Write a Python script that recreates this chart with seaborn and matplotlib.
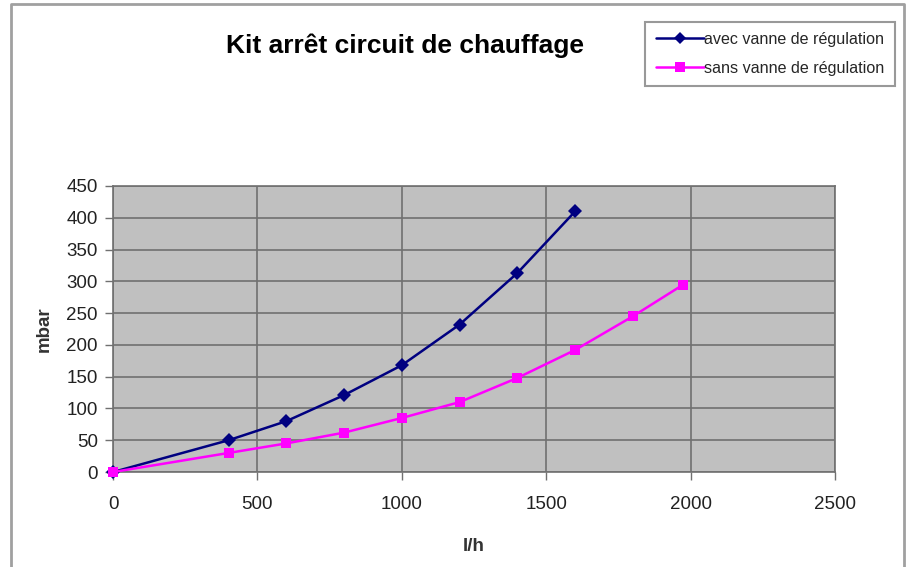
import matplotlib
matplotlib.use("Agg")
import matplotlib.pyplot as plt
import pandas as pd
import seaborn as sns

# values
flow_avec = [0, 400, 600, 800, 1000, 1200, 1400, 1600]
mbar_avec = [0, 50, 80, 121, 168, 232, 313, 410]
flow_sans = [0, 400, 600, 800, 1000, 1200, 1400, 1600, 1800, 1975]
mbar_sans = [0, 30, 45, 62, 85, 110, 148, 192, 245, 295]
x_ticks = [0, 500, 1000, 1500, 2000, 2500]
y_ticks = [0, 50, 100, 150, 200, 250, 300, 350, 400, 450]

label_avec = "avec vanne de régulation"
label_sans = "sans vanne de régulation"

df = pd.concat([
    pd.DataFrame({"l/h": flow_avec, "mbar": mbar_avec, "serie": label_avec}),
    pd.DataFrame({"l/h": flow_sans, "mbar": mbar_sans, "serie": label_sans}),
])

sns.set_theme(style="white")
plt.rcParams["font.family"] = ["Liberation Sans", "DejaVu Sans"]

fig = plt.figure(figsize=(9.1, 5.67), dpi=100)
ax = fig.add_axes([0.1242, 0.1675, 0.7934, 0.5045])

sns.lineplot(data=df, x="l/h", y="mbar", hue="serie", style="serie",
             palette={label_avec: "#000080", label_sans: "#FF00FF"},
             markers={label_avec: "D", label_sans: "s"},
             dashes=False, markersize=7, linewidth=1.8,
             markeredgewidth=0, ax=ax, legend=False, clip_on=False, zorder=3)

ax.set_facecolor("#C0C0C0")
ax.set_xlim(0, 2500)
ax.set_ylim(0, 450)
ax.set_xticks(x_ticks)
ax.set_yticks(y_ticks)
ax.grid(True, color="#707070", linewidth=1.2)
ax.set_axisbelow(True)
for s in ax.spines.values():
    s.set_color("#707070")
    s.set_linewidth(1.2)
ax.tick_params(axis="both", which="both", direction="out", length=6, width=1,
               color="#707070", labelsize=13.5, labelcolor="#222222", pad=5,
               bottom=True, left=True)
ax.tick_params(axis="x", pad=11)
ax.set_xlabel("l/h", fontsize=13.5, fontweight="bold", color="#333333", labelpad=18)
ax.set_ylabel("mbar", fontsize=13.5, fontweight="bold", color="#333333", labelpad=10)

fig.text(0.445, 0.92, "Kit arrêt circuit de chauffage", ha="center", va="center",
         fontsize=19, fontweight="bold", color="black")

# outer chart frame (cut off at the bottom)
fig.add_artist(plt.Line2D([0.012, 0.012, 0.993, 0.993], [0.0, 0.993, 0.993, 0.0],
                          transform=fig.transFigure, color="#A0A0A0", linewidth=2))

# legend box
handles = [
    plt.Line2D([], [], color="#000080", marker="D", markersize=6, linewidth=1.8, markeredgewidth=0),
    plt.Line2D([], [], color="#FF00FF", marker="s", markersize=7, linewidth=1.8, markeredgewidth=0),
]
leg = fig.legend(handles, [label_avec, label_sans], loc="upper left",
                 bbox_to_anchor=(0.709, 0.962), frameon=True, fancybox=False,
                 fontsize=11.6, handlelength=3.0, handletextpad=0.0,
                 borderpad=0.65, labelspacing=0.85, borderaxespad=0)
leg.get_frame().set_edgecolor("#808080")
leg.get_frame().set_linewidth(1.5)

fig.savefig("out.png", dpi=100)
